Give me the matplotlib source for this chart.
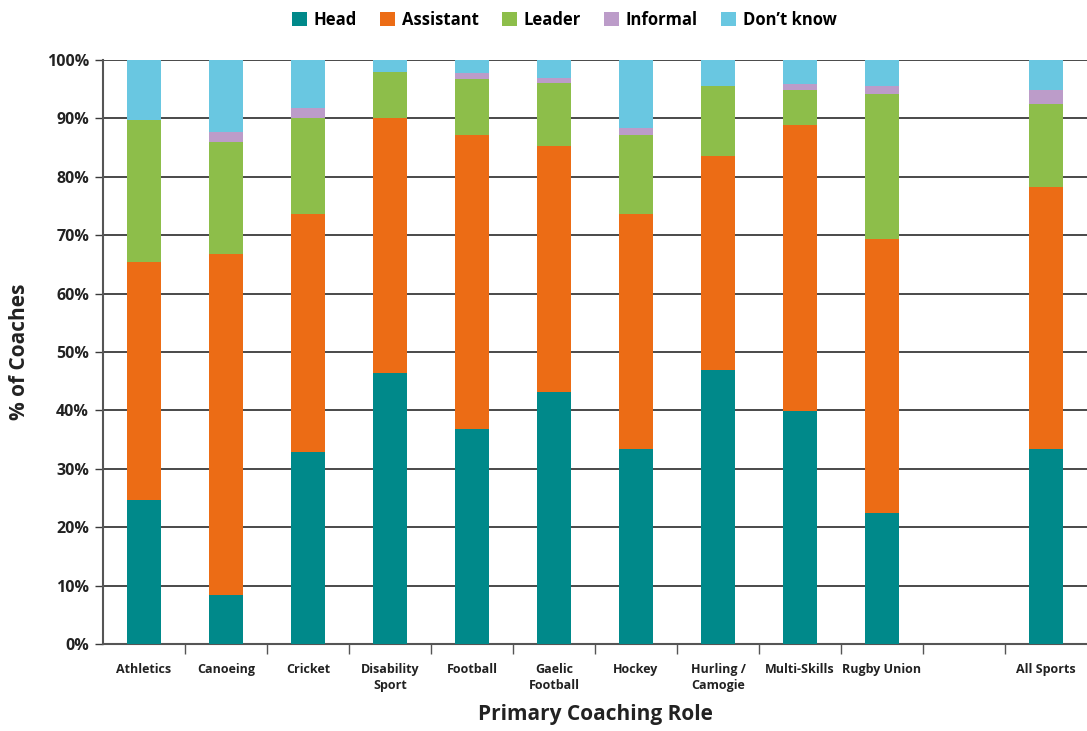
import numpy as np
import matplotlib
matplotlib.use("Agg")
import matplotlib.pyplot as plt
from matplotlib.ticker import FixedLocator, FuncFormatter

plt.rcParams['font.family'] = ['Open Sans', 'DejaVu Sans']

categories = ["Athletics", "Canoeing", "Cricket", "Disability\nSport", "Football",
              "Gaelic\nFootball", "Hockey", "Hurling /\nCamogie", "Multi-Skills",
              "Rugby Union", "", "All Sports"]

# segment sizes (percent of coaches)
head      = [24.7,  8.4, 32.9, 46.4, 36.8, 43.2, 33.4, 46.9, 39.9, 22.4, 0, 33.4]
assistant = [40.7, 58.4, 40.8, 43.6, 50.3, 42.0, 40.3, 36.7, 49.0, 46.9, 0, 44.8]
leader    = [24.4, 19.1, 16.3,  8.0,  9.7, 10.9, 13.5, 11.9,  6.0, 24.9, 0, 14.3]
informal  = [ 0.0,  1.7,  1.8,  0.0,  0.9,  0.8,  1.2,  0.0,  1.0,  1.3, 0,  2.3]
dont_know = [10.2, 12.4,  8.2,  2.0,  2.3,  3.1, 11.6,  4.5,  4.1,  4.5, 0,  5.2]

series = [("Head", head, "#00898A"),
          ("Assistant", assistant, "#EC6C15"),
          ("Leader", leader, "#8DBE4A"),
          ("Informal", informal, "#BC9CC9"),
          ("Don\u2019t know", dont_know, "#69C7E1")]

fig = plt.figure(figsize=(10.87, 7.31), dpi=100)
ax = fig.add_axes([103 / 1087, 87 / 731, 984 / 1087, 584 / 731])

x = np.arange(len(categories))
bottom = np.zeros(len(categories))
handles = []
for name, vals, col in series:
    vals = np.array(vals)
    b = ax.bar(x, vals, 0.415, bottom=bottom, color=col, label=name, zorder=3)
    bottom += vals
    handles.append(b)

ax.set_xlim(-0.5, len(categories) - 0.5)
ax.set_ylim(0, 100)

ax.set_yticks(np.arange(0, 101, 10))
ax.yaxis.set_major_formatter(FuncFormatter(lambda v, p: f"{int(v)}%"))
ax.yaxis.grid(True, color="#3a3a3a", linewidth=1.3, zorder=0)
ax.tick_params(axis="y", length=6, width=1, color="#3a3a3a", labelsize=11.5, pad=4)
for lab in ax.get_yticklabels():
    lab.set_fontweight("bold")
    lab.set_color("#222222")

ax.set_xticks(x)
ax.set_xticklabels(categories, fontsize=9, fontweight="bold", color="#222222",
                   linespacing=1.3)
ax.tick_params(axis="x", which="major", length=0, pad=14)
ax.xaxis.set_minor_locator(FixedLocator(np.arange(0.5, len(categories) - 0.5, 1)))
ax.tick_params(axis="x", which="minor", length=7, width=1, color="#555555")

for s in ["top", "right"]:
    ax.spines[s].set_visible(False)
ax.spines["left"].set_color("#555555")
ax.spines["left"].set_linewidth(1.5)
ax.spines["bottom"].set_color("#555555")
ax.spines["bottom"].set_linewidth(1.5)
ax.set_axisbelow(True)

ax.set_ylabel("% of Coaches", fontsize=15, fontweight="bold", color="#222222", labelpad=12)
ax.set_xlabel("Primary Coaching Role", fontsize=15, fontweight="bold", color="#222222", labelpad=8)

fig.legend(handles=handles, loc="upper center", bbox_to_anchor=(0.519, 1.006), ncol=5,
           frameon=False, prop={"weight": "bold", "size": 12}, handlelength=0.9,
           handleheight=0.9, handletextpad=0.4, columnspacing=1.4)

fig.savefig("out.png", dpi=100)
